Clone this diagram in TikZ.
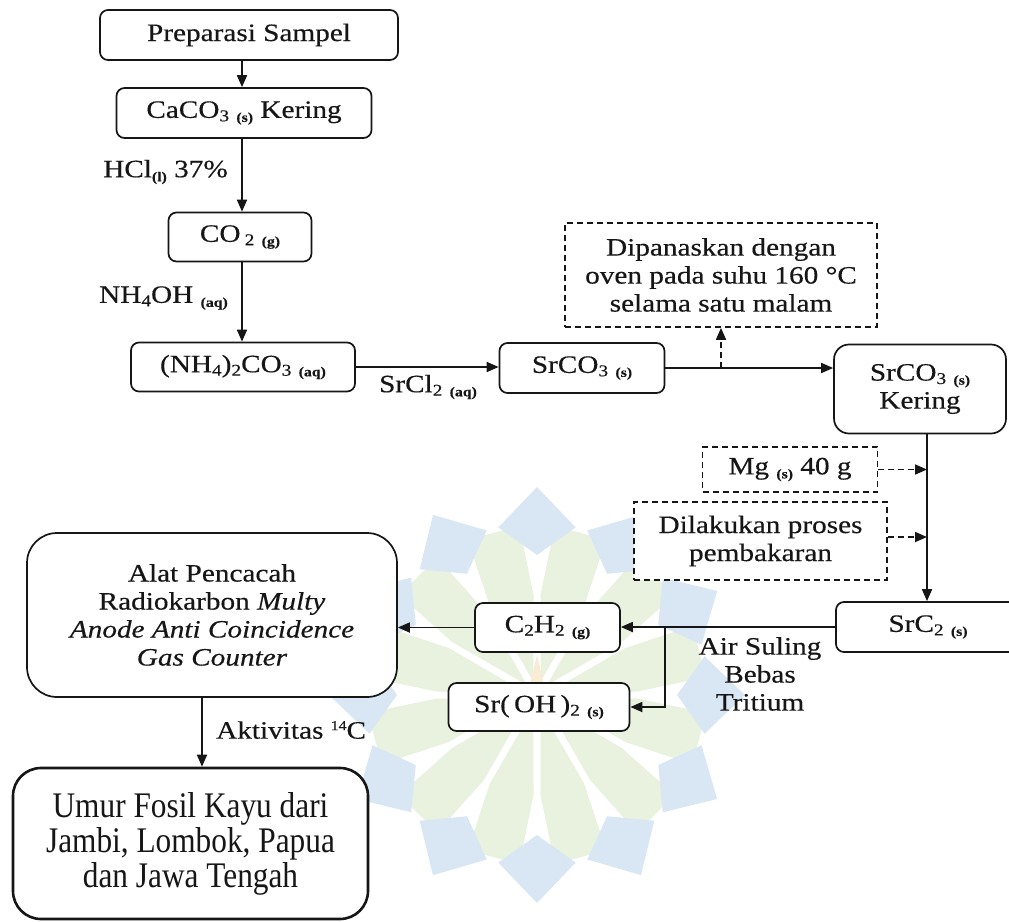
\documentclass[tikz,border=0pt]{standalone}
\usepackage{fontspec}
\setmainfont{Liberation Serif}[FakeStretch=1.17,FakeBold=0.35]
\newfontfamily\umurfont{Liberation Serif}[FakeStretch=0.87]
\usetikzlibrary{arrows.meta}
\definecolor{wmblue}{RGB}{217,231,245}
\definecolor{wmgreen}{RGB}{233,241,223}
\definecolor{wmyellow}{RGB}{250,236,212}
\definecolor{ink}{RGB}{22,22,22}
\newcommand{\subn}[1]{\raisebox{-0.3ex}{\fontsize{16.5}{16.5}\selectfont #1}}
\newcommand{\subs}[1]{\raisebox{-0.35ex}{\fontsize{13.5}{13.5}\selectfont\bfseries #1}}
\newcommand{\supn}[1]{\raisebox{0.75ex}{\fontsize{13.5}{13.5}\selectfont #1}}
\begin{document}
\begin{tikzpicture}[x=1pt,y=-1pt,
  txt/.style={font=\fontsize{25}{28}\selectfont, text=ink},
  box/.style={txt, draw=ink, line width=1.7pt, fill=white, rounded corners=8pt, inner sep=0pt, align=center},
  dbox/.style={txt, draw=ink, line width=1.7pt, dash pattern=on 6pt off 4pt, fill=white, inner sep=0pt, align=center},
  lbl/.style={txt, inner sep=0pt, align=center},
  arr/.style={draw=ink, line width=1.7pt, -{Triangle[length=12pt,width=10pt]}},
  darr/.style={arr, dash pattern=on 6pt off 4pt}]
\useasboundingbox (0,0) rectangle (1009,921);
\clip (0,0) rectangle (1009,921);
\fill[white] (0,0) rectangle (1009,921);
% watermark
\begin{scope}[shift={(537,695)}]
  \foreach \a in {0,30,...,330} {
    \pgfmathsetmacro{\b}{\a+15}
    \pgfmathsetmacro{\bl}{\b-13}
    \pgfmathsetmacro{\br}{\b+13}
    \pgfmathsetmacro{\bll}{\b-9}
    \pgfmathsetmacro{\brr}{\b+9}
    \fill[wmgreen] (\b:14) -- (\bl:100) -- (\bll:170) -- (\brr:170) -- (\br:100) -- cycle;
  }
  \foreach \a in {0,30,...,330} {
    \pgfmathsetmacro{\al}{\a-13}
    \pgfmathsetmacro{\ar}{\a+13}
    \fill[wmblue] (\a:208) -- (\al:172) -- (\a:140) -- (\ar:172) -- cycle;
  }
  \fill[wmyellow] (0,-40) -- (-8,-6) -- (8,-6) -- cycle;
\end{scope}
% nodes
\node[box, minimum width=298pt, minimum height=50pt] (prep) at (249,35) {Preparasi Sampel};
\node[box, minimum width=255pt, minimum height=50pt] (caco3) at (244,113) {CaCO\subn{3} \subs{(s)} Kering};
\node[box, minimum width=143pt, minimum height=49pt] (co2) at (240,237) {CO\,\subn{2} \subs{(g)}};
\node[box, minimum width=224pt, minimum height=49pt] (nh4) at (243,367) {(NH\subn{4})\subn{2}CO\subn{3} \subs{(aq)}};
\node[box, minimum width=165pt, minimum height=50pt] (srco3) at (582,368) {SrCO\subn{3} \subs{(s)}};
\node[dbox, minimum width=312pt, minimum height=104pt] (oven) at (721,275) {Dipanaskan dengan\\oven pada suhu 160 °C\\selama satu malam};
\node[box, rounded corners=15pt, minimum width=172pt, minimum height=89pt] (kering) at (920,389) {SrCO\subn{3} \subs{(s)}\\Kering};
\node[dbox, minimum width=175pt, minimum height=45pt] (mg) at (790,469.5) {Mg \subs{(s)} 40 g};
\node[dbox, minimum width=253pt, minimum height=78pt] (bakar) at (760.5,541) {Dilakukan proses\\pembakaran};
\node[box, minimum width=184pt, minimum height=50pt] (src2) at (928,627) {SrC\subn{2} \subs{(s)}};
\node[box, minimum width=145pt, minimum height=49pt] (c2h2) at (547.5,627.5) {C\subn{2}H\subn{2} \subs{(g)}};
\node[box, minimum width=181pt, minimum height=48pt] (sroh) at (539,707) {Sr(\,OH\,)\subn{2} \subs{(s)}};
\node[box, rounded corners=30pt, minimum width=370pt, minimum height=164pt] (alat) at (212,615) {Alat Pencacah\\Radiokarbon \textit{Multy}\\\textit{Anode Anti Coincidence}\\\textit{Gas Counter}};
\node[box, rounded corners=28pt, line width=2.6pt, minimum width=355pt, minimum height=151pt, font=\umurfont\fontsize{36}{35}\selectfont] (umur) at (190.5,843.5) {Umur Fosil Kayu dari\\Jambi, Lombok, Papua\\dan Jawa Tengah};
% labels
\node[lbl, anchor=east] (lhcl) at (228,172) {HCl\subs{(l)} 37\%};
\node[lbl, anchor=east] (lnh) at (228,298) {NH\subn{4}OH \subs{(aq)}};
\node[lbl] (lsrcl) at (428,387) {SrCl\subn{2} \subs{(aq)}};
\node[lbl] (lair) at (760,674) {Air Suling\\Bebas\\Tritium};
\node[lbl, anchor=west] (lakt) at (216,730) {Aktivitas \supn{14}C};
% helper coordinates
\coordinate (ax) at (242,0);
\coordinate (vx) at (927,0);
\coordinate (br) at (665,627);
\coordinate (dx) at (202,0);
% connectors
\draw[arr] (prep.south -| ax) -- (caco3.north -| ax);
\draw[arr] (caco3.south -| ax) -- (co2.north -| ax);
\draw[arr] (co2.south -| ax) -- (nh4.north -| ax);
\draw[arr] (nh4.east) -- (nh4.east -| srco3.west);
\draw[arr] (srco3.east) -- (srco3.east -| kering.west);
\draw[darr] (oven.south |- srco3.east) -- (oven.south);
\draw[arr] (kering.south -| vx) -- (src2.north -| vx);
\draw[darr] (mg.east) -- (mg.east -| vx);
\draw[darr] ([yshift=4pt]bakar.east) -- ([yshift=4pt]bakar.east -| vx);
\draw[arr] (src2.west) -- (src2.west -| c2h2.east);
\draw[arr] (br) |- (sroh.east);
\draw[arr] (c2h2.west) -- (c2h2.west -| alat.east);
\draw[arr] (alat.south -| dx) -- (umur.north -| dx);
\end{tikzpicture}
\end{document}
